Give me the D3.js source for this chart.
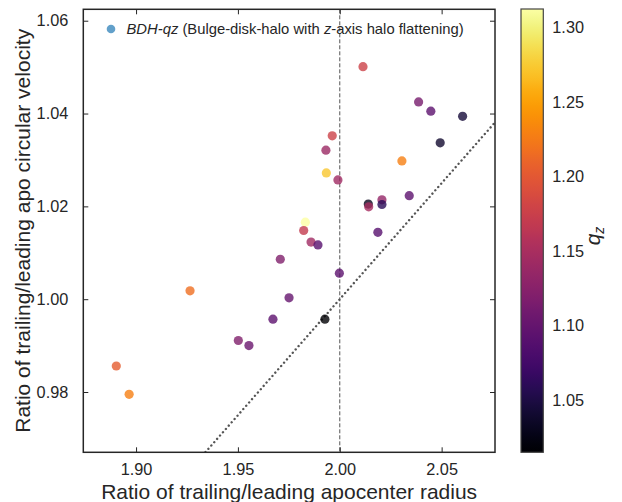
<!DOCTYPE html>
<html><head><meta charset="utf-8">
<script src="https://cdn.jsdelivr.net/npm/d3@7"></script>
<style>
body{margin:0;background:#fff;}
text{font-family:"Liberation Sans",Arial,Helvetica,sans-serif;}
</style>
</head><body>
<svg id="chart" width="622" height="502"></svg>
<script>
// ---- data ----
const radiusRatio = [2.0114, 2.0387, 2.0447, 2.0603, 1.9963, 2.0493, 1.9932, 2.0305, 1.9934, 1.9991,
  2.0341, 2.0207, 2.0140, 2.0142, 2.0207, 1.9831, 1.9823, 1.9859, 1.9893, 2.0187,
  1.9708, 1.9998, 1.9265, 1.8903, 1.8966, 1.9502, 1.9554, 1.9672, 1.9751, 1.9927];
const velocityRatio = [1.0501, 1.0425, 1.0405, 1.0394, 1.0352, 1.0337, 1.0321, 1.0298, 1.0272, 1.0257,
  1.0223, 1.0214, 1.0205, 1.0199, 1.0204, 1.0166, 1.0148, 1.0123, 1.0117, 1.0144,
  1.0086, 1.0056, 1.0018, 0.9856, 0.9795, 0.9911, 0.9900, 0.9957, 1.0003, 0.9957];
const qz = [1.178, 1.113, 1.095, 1.045, 1.178, 1.040, 1.140, 1.229, 1.274, 1.143,
  1.095, 1.134, 1.030, 1.148, 1.060, 1.312, 1.170, 1.143, 1.090, 1.090,
  1.120, 1.095, 1.217, 1.202, 1.229, 1.120, 1.104, 1.095, 1.100, 1.015];
const xTicks = [1.90, 1.95, 2.00, 2.05];
const yTicks = [0.98, 1.00, 1.02, 1.04, 1.06];
const cTicks = [1.05, 1.10, 1.15, 1.20, 1.25, 1.30];
const xDomain = [1.8741, 2.0762];
const yDomain = [0.96701, 1.06246];
const cDomain = [1.0149, 1.3124];
const legendLabel = ["BDH-qz", " (Bulge-disk-halo with ", "z", "-axis halo flattening)"];

// ---- layout ----
const svg = d3.select("#chart");
const L = 83.3, R = 495, T = 9.3, B = 452.3;
const x = d3.scaleLinear().domain(xDomain).range([L, R]);
const y = d3.scaleLinear().domain(yDomain).range([B, T]);
const cb = {x0: 521, x1: 543.3, y0: 9, y1: 452.3};
const cy = d3.scaleLinear().domain(cDomain).range([cb.y1, cb.y0]);
const color = v => d3.interpolateInferno((v - cDomain[0]) / (cDomain[1] - cDomain[0]));

svg.append("defs").append("clipPath").attr("id", "clip")
  .append("rect").attr("x", L).attr("y", T).attr("width", R - L).attr("height", B - T);

const ink = "#262626";

// reference lines
const plotG = svg.append("g").attr("clip-path", "url(#clip)");
const xs = d3.range(0, 101).map(i => xDomain[0] + (xDomain[1] - xDomain[0]) * i / 100);
plotG.append("path")
  .attr("d", d3.line().x(d => x(d)).y(d => y(d / 2))(xs))
  .attr("fill", "none").attr("stroke", "#555").attr("stroke-width", 2.4)
  .attr("stroke-dasharray", "0.01 4.4").attr("stroke-linecap", "round");
plotG.append("line")
  .attr("x1", x(2.0)).attr("x2", x(2.0)).attr("y1", T).attr("y2", B)
  .attr("stroke", "#555").attr("stroke-width", 1).attr("stroke-dasharray", "4 2");

// points
plotG.selectAll("circle.pt").data(d3.range(radiusRatio.length)).join("circle")
  .attr("class", "pt")
  .attr("cx", i => x(radiusRatio[i])).attr("cy", i => y(velocityRatio[i]))
  .attr("r", 4.6).attr("fill", i => color(qz[i])).attr("fill-opacity", 0.8);

// axes (inward ticks on all sides)
const fmt = d3.format(".2f");
const axB = svg.append("g").attr("transform", `translate(0,${B})`)
  .call(d3.axisBottom(x).tickValues(xTicks).tickFormat(fmt).tickSize(-5).tickPadding(11));
const axT = svg.append("g").attr("transform", `translate(0,${T})`)
  .call(d3.axisTop(x).tickValues(xTicks).tickFormat("").tickSize(-5));
const axL = svg.append("g").attr("transform", `translate(${L},0)`)
  .call(d3.axisLeft(y).tickValues(yTicks).tickFormat(fmt).tickSize(-5).tickPadding(15));
const axR = svg.append("g").attr("transform", `translate(${R},0)`)
  .call(d3.axisRight(y).tickValues(yTicks).tickFormat("").tickSize(-5));
[axB, axT, axL, axR].forEach(g => {
  g.select(".domain").remove();
  g.selectAll(".tick line").attr("stroke", ink).attr("stroke-width", 1);
  g.selectAll(".tick text").attr("font-size", 16.3).attr("fill", ink)
    .attr("font-family", "'Liberation Sans',Arial,sans-serif");
});

// frame
svg.append("rect").attr("x", L).attr("y", T).attr("width", R - L).attr("height", B - T)
  .attr("fill", "none").attr("stroke", ink).attr("stroke-width", 1.5);

// axis labels
svg.append("text").attr("x", (L + R) / 2).attr("y", 499).attr("text-anchor", "middle")
  .attr("font-size", 21).attr("fill", ink).text("Ratio of trailing/leading apocenter radius");
svg.append("text").attr("transform", `translate(30,${(T + B) / 2}) rotate(-90)`)
  .attr("text-anchor", "middle").attr("font-size", 21).attr("fill", ink)
  .text("Ratio of trailing/leading apo circular velocity");

// legend
svg.append("circle").attr("cx", 111).attr("cy", 29).attr("r", 4.3)
  .attr("fill", "#1f77b4").attr("fill-opacity", 0.7);
const lt = svg.append("text").attr("x", 126.5).attr("y", 34).attr("font-size", 14.8).attr("fill", ink);
legendLabel.forEach((s, i) => {
  lt.append("tspan").attr("font-style", (i === 0 || i === 2) ? "italic" : "normal").text(s);
});

// colorbar
const grad = svg.select("defs").append("linearGradient").attr("id", "cbg")
  .attr("x1", 0).attr("y1", 1).attr("x2", 0).attr("y2", 0);
d3.range(0, 1.0001, 0.02).forEach(t => {
  grad.append("stop").attr("offset", t).attr("stop-color", d3.interpolateInferno(t));
});
svg.append("rect").attr("x", cb.x0).attr("y", cb.y0).attr("width", cb.x1 - cb.x0).attr("height", cb.y1 - cb.y0)
  .attr("fill", "url(#cbg)").attr("stroke", "#444").attr("stroke-width", 1.2);
const axC = svg.append("g").attr("transform", `translate(${cb.x1},0)`)
  .call(d3.axisRight(cy).tickValues(cTicks).tickFormat(fmt).tickSize(0).tickPadding(9));
axC.select(".domain").remove();
axC.selectAll(".tick text").attr("font-size", 16.3).attr("fill", ink)
  .attr("font-family", "'Liberation Sans',Arial,sans-serif");

const ql = svg.append("text").attr("transform", "translate(600,236) rotate(-90)")
  .attr("text-anchor", "middle").attr("font-size", 21).attr("fill", ink).attr("font-style", "italic");
ql.append("tspan").text("q");
ql.append("tspan").attr("font-size", 14).attr("dy", 4).text("z");
</script>
</body></html>
